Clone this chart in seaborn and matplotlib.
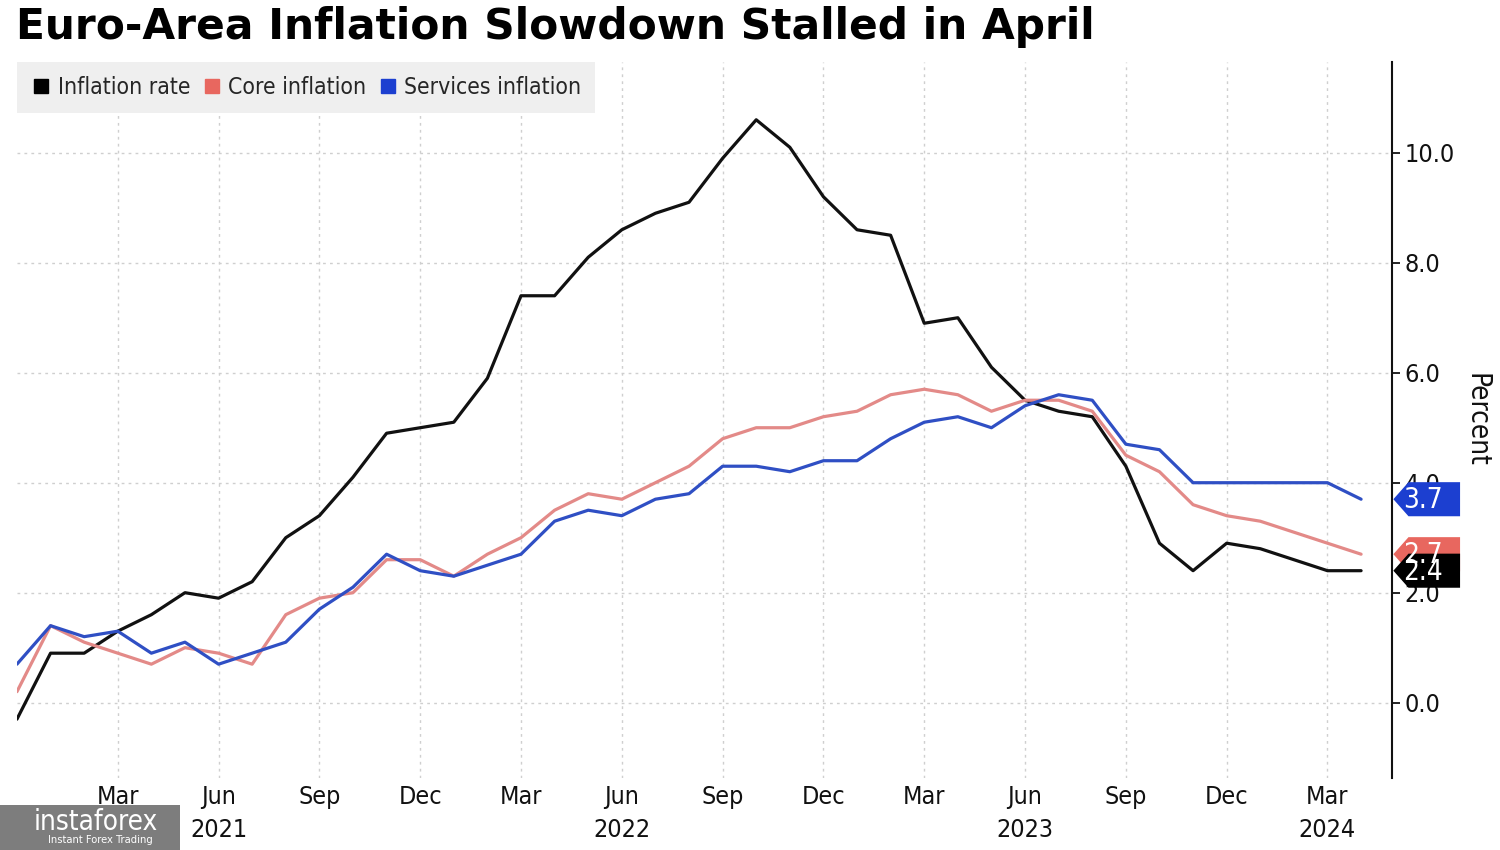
import pandas as pd
import numpy as np
import matplotlib.pyplot as plt
import seaborn as sns
from matplotlib.patches import Polygon, Rectangle
from matplotlib.lines import Line2D
import matplotlib.transforms as mtransforms

# Monthly y/y rates, Dec 2020 .. Apr 2024 (percent)
months = pd.date_range("2020-12-01", "2024-04-01", freq="MS")

inflation_rate = [-0.3, 0.9, 0.9, 1.3, 1.6, 2.0, 1.9, 2.2, 3.0, 3.4, 4.1, 4.9,
                  5.0, 5.1, 5.9, 7.4, 7.4, 8.1, 8.6, 8.9, 9.1, 9.9, 10.6, 10.1,
                  9.2, 8.6, 8.5, 6.9, 7.0, 6.1, 5.5, 5.3, 5.2, 4.3, 2.9, 2.4,
                  2.9, 2.8, 2.6, 2.4, 2.4]
core_inflation = [0.2, 1.4, 1.1, 0.9, 0.7, 1.0, 0.9, 0.7, 1.6, 1.9, 2.0, 2.6,
                  2.6, 2.3, 2.7, 3.0, 3.5, 3.8, 3.7, 4.0, 4.3, 4.8, 5.0, 5.0,
                  5.2, 5.3, 5.6, 5.7, 5.6, 5.3, 5.5, 5.5, 5.3, 4.5, 4.2, 3.6,
                  3.4, 3.3, 3.1, 2.9, 2.7]
services_inflation = [0.7, 1.4, 1.2, 1.3, 0.9, 1.1, 0.7, 0.9, 1.1, 1.7, 2.1, 2.7,
                      2.4, 2.3, 2.5, 2.7, 3.3, 3.5, 3.4, 3.7, 3.8, 4.3, 4.3, 4.2,
                      4.4, 4.4, 4.8, 5.1, 5.2, 5.0, 5.4, 5.6, 5.5, 4.7, 4.6, 4.0,
                      4.0, 4.0, 4.0, 4.0, 3.7]

series_names = ["Inflation rate", "Core inflation", "Services inflation"]
line_colors = ["#111111", "#e38a88", "#2f4fc4"]
key_colors = ["#000000", "#e8675f", "#1c3fd0"]

# quarterly tick labels (Mar 2021 .. Mar 2024)
tick_years = {"Jun 2021": "2021", "Jun 2022": "2022", "Jun 2023": "2023", "Mar 2024": "2024"}
y_ticks = [0, 2, 4, 6, 8, 10]

# long format for seaborn
idx = np.arange(len(months))
df = pd.DataFrame({
    "idx": np.tile(idx, 3),
    "value": inflation_rate + core_inflation + services_inflation,
    "series": np.repeat(series_names, len(months)),
})

sns.set_style("white")
plt.rcParams["font.family"] = ["DejaVu Sans"]
plt.rcParams["font.stretch"] = "condensed"

fig = plt.figure(figsize=(15, 8.5), dpi=100)
ax = fig.add_axes([0.0113, 0.0847, 0.9167, 0.8423])

sns.lineplot(data=df, x="idx", y="value", hue="series", hue_order=series_names,
             palette=line_colors, linewidth=2.3, legend=False, ax=ax)

ax.set_xlim(0, 40.92)
ax.set_ylim(-1.37, 11.65)

# x ticks
tick_pos = list(range(3, 40, 3))
labels = []
for p in tick_pos:
    d = months[p]
    key = d.strftime("%b %Y")
    lab = d.strftime("%b")
    if key in tick_years:
        lab += "\n" + tick_years[key]
    labels.append(lab)
ax.set_xticks(tick_pos)
ax.set_xticklabels(labels, fontsize=18, color="#111111", linespacing=1.5)
ax.tick_params(axis="x", length=0, pad=5)

# y ticks on the right
ax.yaxis.tick_right()
ax.yaxis.set_label_position("right")
ax.set_yticks(y_ticks)
ax.set_yticklabels([f"{v:.1f}" for v in y_ticks], fontsize=18, color="#111111")
ax.tick_params(axis="y", length=6, width=1.3, direction="out", pad=3, color="#111111")
ax.set_ylabel("Percent", fontsize=20, rotation=270, labelpad=26, color="#111111")
ax.set_xlabel("")

ax.grid(True, linestyle=(0, (2, 3)), color="#cfcfcf", linewidth=1.0)
for s in ["left", "top", "bottom"]:
    ax.spines[s].set_visible(False)
ax.spines["right"].set_color("#111111")
ax.spines["right"].set_linewidth(1.5)

# legend
handles = [Line2D([0], [0], marker="s", linestyle="", markersize=10,
                  markerfacecolor=c, markeredgecolor=c) for c in key_colors]
leg = ax.legend(handles, series_names, loc="upper left", ncol=3, bbox_to_anchor=(0, 1),
                borderaxespad=0, frameon=True, fontsize=16.5, handletextpad=0.25,
                columnspacing=0.5, borderpad=0.62, handlelength=0.9)
leg.get_frame().set_facecolor("#efefef")
leg.get_frame().set_edgecolor("none")
leg.get_frame().set_boxstyle("square", pad=0)
leg.get_frame().set_alpha(1)

# last-value tags on the right axis
trans = mtransforms.blended_transform_factory(ax.transAxes, ax.transData)
last_vals = [services_inflation[-1], core_inflation[-1], inflation_rate[-1]]
tag_colors = ["#1c3fd0", "#e8675f", "#000000"]
half_h = 0.31
for val, col in zip(last_vals, tag_colors):
    poly = Polygon([(1.001, val), (1.012, val + half_h), (1.0495, val + half_h),
                    (1.0495, val - half_h), (1.012, val - half_h)],
                   closed=True, transform=trans, facecolor=col, edgecolor="none",
                   clip_on=False, zorder=5)
    ax.add_patch(poly)
    ax.text(1.0225, val - 0.02, f"{val:.1f}", transform=trans, color="white", fontsize=20,
            ha="center", va="center", clip_on=False, zorder=6)

# title
fig.text(0.011, 0.968, "Euro-Area Inflation Slowdown Stalled in April",
         fontsize=30.5, fontweight="heavy", va="center", ha="left", color="#000000",
         fontstretch="normal")

# source watermark box
fig.patches.append(Rectangle((0, 0), 180 / 1500, 45 / 850, transform=fig.transFigure,
                             facecolor="#7d7d7d", edgecolor="none", zorder=10))
fig.text(34 / 1500, 28 / 850, "instaforex", fontsize=20, color="white",
         va="center", ha="left", zorder=11)
fig.text(48 / 1500, 10 / 850, "Instant Forex Trading", fontsize=8, color="white",
         va="center", ha="left", zorder=11)

fig.savefig("out.png", dpi=100)
